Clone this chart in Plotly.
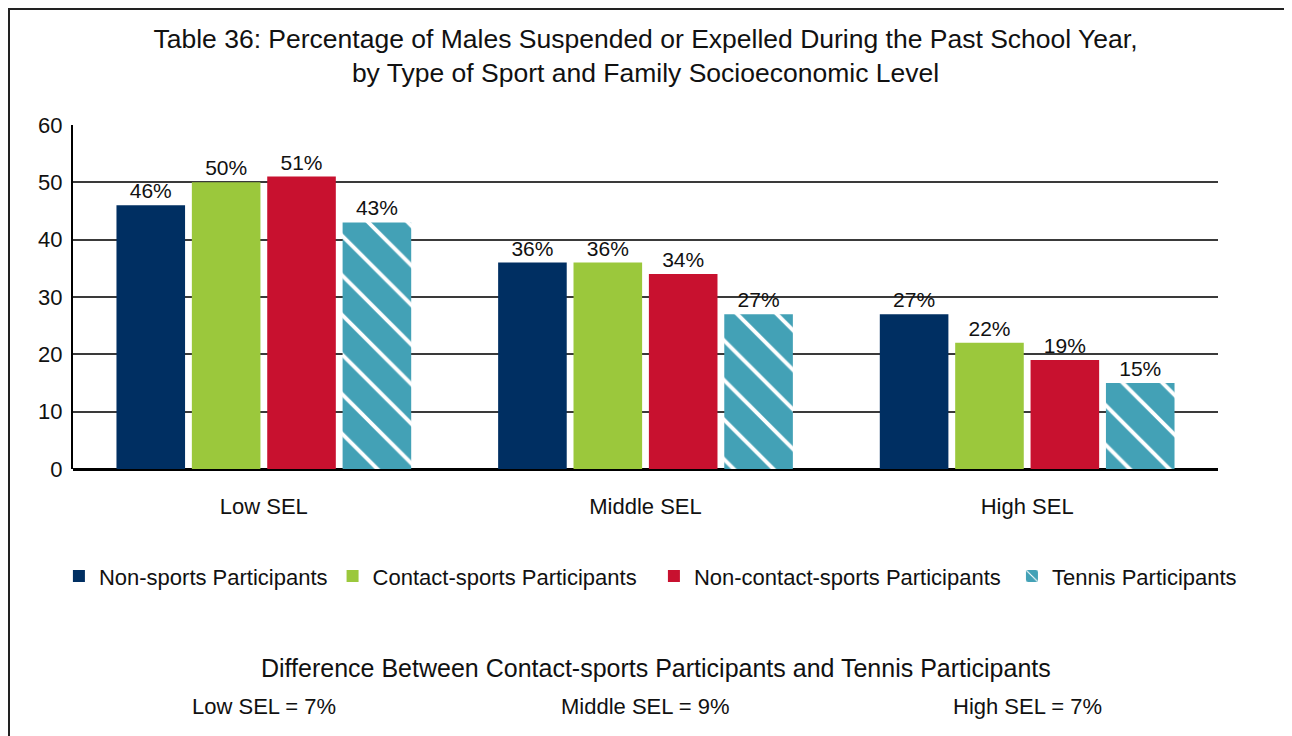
import plotly.graph_objects as go

# data
categories = ["Low SEL", "Middle SEL", "High SEL"]
non_sports = [46, 36, 27]
contact_sports = [50, 36, 22]
non_contact_sports = [51, 34, 19]
tennis = [43, 27, 15]
y_ticks = [0, 10, 20, 30, 40, 50, 60]

diff_labels = ["Low SEL = 7%", "Middle SEL = 9%", "High SEL = 7%"]

FONT = "Liberation Sans, Arial, Helvetica, sans-serif"
INK = "#111111"
NBSP = "\u00a0"

# legend names get a little padding so the items spread like the original
series = [
    ("Non-sports Participants", non_sports, "#002f62"),
    ("Contact-sports Participants" + NBSP * 2, contact_sports, "#9bc83c"),
    ("Non-contact-sports Participants" + NBSP, non_contact_sports, "#c8112f"),
    ("Tennis Participants", tennis, "#43a1b6"),
]

fig = go.Figure()

for name, vals, color in series:
    marker = dict(color=color, line=dict(width=0))
    if name.startswith("Tennis"):
        marker["pattern"] = dict(shape="\\", fgcolor="white", size=28,
                                 solidity=0.14, fillmode="replace",
                                 bgcolor=color)
    fig.add_trace(go.Bar(
        name=name,
        x=categories,
        y=vals,
        marker=marker,
        text=[f"{v}%" for v in vals],
        textposition="outside",
        textfont=dict(size=21, color=INK, family=FONT),
        cliponaxis=False,
    ))

# page has an 8px body margin, so the figure is a bit smaller than the window
fig.update_layout(
    width=1284,
    height=728,
    barmode="group",
    bargap=0.21,
    bargroupgap=0.09,
    plot_bgcolor="white",
    paper_bgcolor="white",
    font=dict(family=FONT, size=22, color=INK),
    margin=dict(l=65, r=74, t=117, b=267),
    showlegend=True,
    legend=dict(
        orientation="h",
        x=-0.0123, y=-0.3115,
        xanchor="left", yanchor="middle",
        font=dict(size=22, family=FONT, color=INK),
        itemwidth=30,
        traceorder="normal",
    ),
    title=dict(
        text="Table 36: Percentage of Males Suspended or Expelled During the Past School Year,<br>"
             "by Type of Sport and Family Socioeconomic Level",
        x=0.5, xref="paper",
        y=0.945, yanchor="middle",
        font=dict(size=26.5, family=FONT, color=INK),
    ),
)

fig.update_yaxes(
    range=[0, 60],
    tickvals=y_ticks,
    showgrid=True,
    gridcolor="#3a3a3a",
    gridwidth=1.5,
    showline=True,
    linecolor="black",
    linewidth=2,
    zeroline=True,
    zerolinecolor="black",
    zerolinewidth=3,
    ticks="",
    ticklabelstandoff=4,
    tickfont=dict(size=22),
)

fig.update_xaxes(
    showline=False,
    ticks="",
    ticklabelstandoff=22,
    tickfont=dict(size=22),
)

# frame around the whole graphic (left and top visible)
fig.add_shape(type="rect", xref="paper", yref="paper",
              x0=-0.0559, x1=1.08, y0=-0.85, y1=1.337,
              line=dict(color="#222", width=2), layer="below")

# difference note below legend
fig.add_annotation(
    text="Difference Between Contact-sports Participants and Tennis Participants",
    xref="paper", yref="paper", x=0.509, y=-0.5775, yanchor="middle",
    showarrow=False, font=dict(size=25, family=FONT, color=INK),
)
for i, lab in enumerate(diff_labels):
    fig.add_annotation(
        text=lab, xref="x", yref="paper", x=categories[i], y=-0.6914,
        yanchor="middle",
        showarrow=False, font=dict(size=22, family=FONT, color=INK),
    )

fig.write_html("out.html")
